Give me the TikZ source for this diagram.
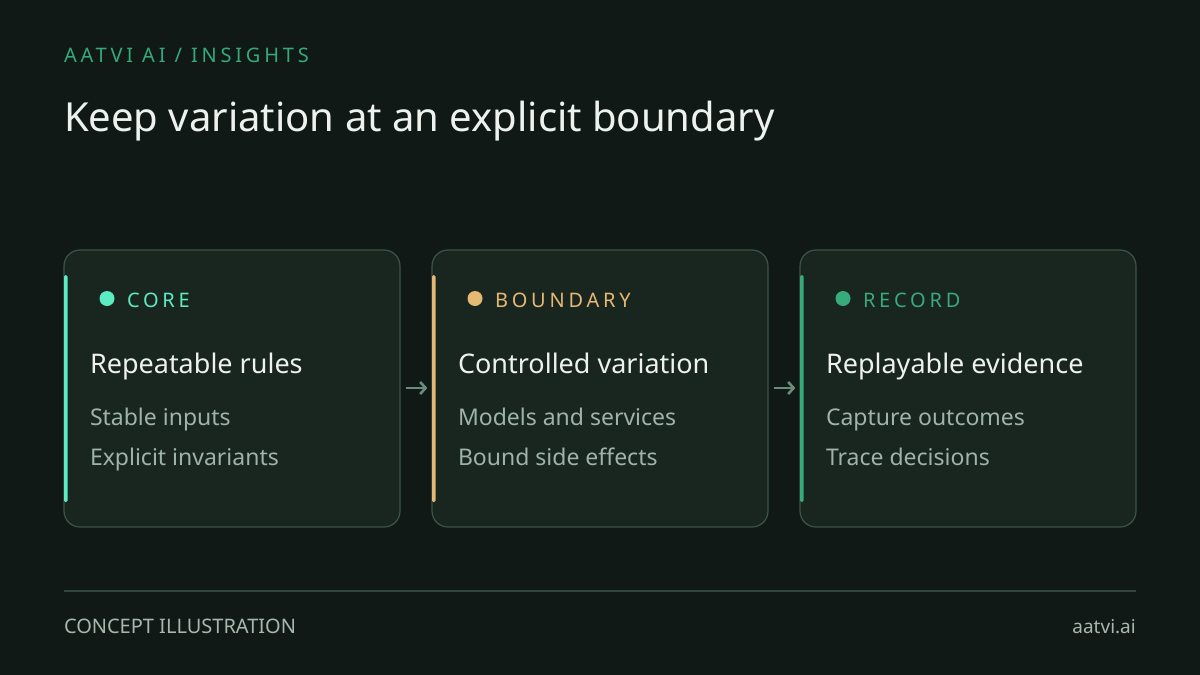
\documentclass[tikz,border=0pt]{standalone}
\usepackage{fontspec}
\setmainfont{Noto Sans}
\newfontfamily\spacedfont[LetterSpace=19]{Noto Sans}
\usetikzlibrary{arrows.meta}
\definecolor{bgc}{HTML}{101915}
\definecolor{cardfill}{HTML}{19251F}
\definecolor{cardline}{HTML}{3C5448}
\definecolor{titlec}{HTML}{EEF2EF}
\definecolor{headc}{HTML}{34A97C}
\definecolor{itemc}{HTML}{9FB3A8}
\definecolor{corec}{HTML}{5CECC2}
\definecolor{boundc}{HTML}{E5B873}
\definecolor{recc}{HTML}{37AB7C}
\definecolor{arrowc}{HTML}{6B8C7A}
\definecolor{footline}{HTML}{32463C}
\definecolor{footc}{HTML}{A8B8AE}
\tikzset{
  card/.style={draw=cardline, line width=1.2pt, fill=cardfill, rounded corners=16pt,
    minimum width=336pt, minimum height=277pt, inner sep=0pt},
  txt/.style={anchor=base west, inner sep=0pt, outer sep=0pt},
  lbl/.style={txt, font=\spacedfont\fontsize{20}{24}\selectfont},
  ctitle/.style={txt, text=titlec, font=\fontsize{27}{32}\selectfont},
  item/.style={txt, text=itemc, font=\fontsize{23}{28}\selectfont},
  flow/.style={draw=arrowc, line width=2.6pt, -{Straight Barb[length=5.5pt,width=12pt]}},
}
\begin{document}
\begin{tikzpicture}[x=1pt,y=-1pt]
\fill[bgc] (0,0) rectangle (1200,675);
\useasboundingbox (0,0) rectangle (1200,675);

\node[txt, text=headc, font=\spacedfont\fontsize{20}{24}\selectfont] (kicker) at (64,62) {AATVI AI / INSIGHTS};
\node[txt, text=titlec, font=\fontsize{40}{46}\selectfont] (title) at (64,131) {Keep variation at an explicit boundary};

% cards
\node[card] (c1) at (232,388.5) {};
\node[card] (c2) at (600,388.5) {};
\node[card] (c3) at (968,388.5) {};

\fill[corec, rounded corners=1.5pt] (64,275) rectangle (67.5,502);
\fill[boundc, rounded corners=1.5pt] (432,275) rectangle (435.5,502);
\fill[recc, rounded corners=1.5pt] (800,275) rectangle (803.5,502);

\fill[corec] (107,298.5) circle (7.5);
\fill[boundc] (475,298.5) circle (7.5);
\fill[recc] (843,298.5) circle (7.5);

\node[lbl, text=corec] (l1) at (127,307) {CORE};
\node[lbl, text=boundc] (l2) at (495,307) {BOUNDARY};
\node[lbl, text=recc] (l3) at (863,307) {RECORD};

\node[ctitle] (t1) at (90,373) {Repeatable rules};
\node[ctitle] (t2) at (458,373) {Controlled variation};
\node[ctitle] (t3) at (826,373) {Replayable evidence};

\node[item] (a1) at (90,425) {Stable inputs};
\node[item] (b1) at (90,465) {Explicit invariants};
\node[item] (a2) at (458,425) {Models and services};
\node[item] (b2) at (458,465) {Bound side effects};
\node[item] (a3) at (826,425) {Capture outcomes};
\node[item] (b3) at (826,465) {Trace decisions};

\draw[flow] ([xshift=5pt,yshift=0.5pt]c1.east) -- ([xshift=-4pt,yshift=0.5pt]c2.west);
\draw[flow] ([xshift=5pt,yshift=0.5pt]c2.east) -- ([xshift=-4pt,yshift=0.5pt]c3.west);

% footer
\coordinate (fl) at (64,591);
\coordinate (fr) at (1136,591);
\draw[footline, line width=1.8pt] (fl) -- (fr);
\node[txt, text=footc, font=\fontsize{20}{24}\selectfont] (f1) at (64,633) {CONCEPT ILLUSTRATION};
\node[anchor=base east, inner sep=0pt, text=footc, font=\fontsize{19}{24}\selectfont] (f2) at (1136,633) {aatvi.ai};
\end{tikzpicture}
\end{document}
